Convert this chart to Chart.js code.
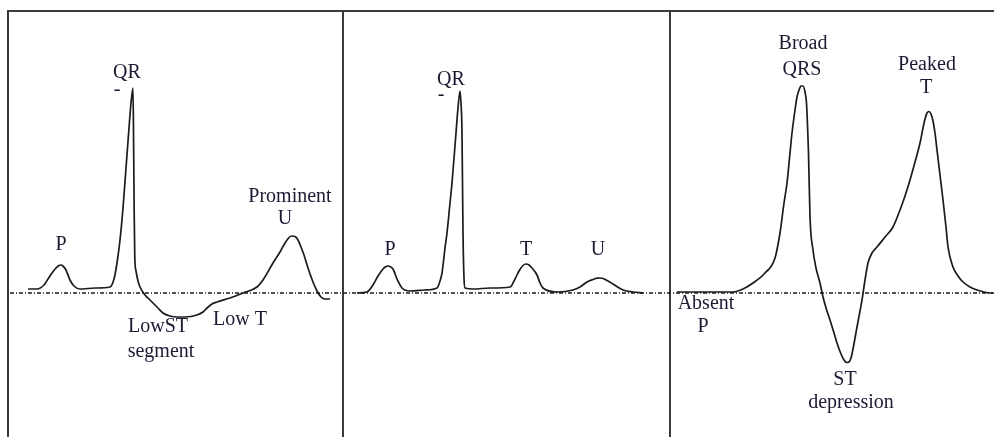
<!DOCTYPE html>
<html>
<head>
<meta charset="utf-8">
<script src="https://cdn.jsdelivr.net/npm/chart.js@4/dist/chart.umd.min.js"></script>
<style>
  html, body { margin: 0; padding: 0; background: #ffffff; }
  #wrap { width: 994px; height: 437px; position: relative; }
</style>
</head>
<body>
<div id="wrap"><canvas id="c"></canvas></div>
<script>
// ---- Data (x = horizontal position along the strip, y = amplitude above the isoelectric line) ----
// Panel 1: prominent U, low ST segment, low T
const panel1X = [28, 37, 44, 48, 52, 56, 59, 61, 63, 66, 70, 74, 80, 95, 110, 114, 117, 120, 123, 126, 129, 131, 133, 133.6, 134.2, 134.8, 136, 138, 140, 145, 150, 157, 163, 170, 177, 185, 197, 203, 207, 212, 217, 230, 243, 257, 263, 273, 280, 285, 289, 292, 295, 298, 301, 304, 308, 313, 317, 321, 325, 330];
const panel1Y = [4, 4, 8, 14, 20, 25, 27.5, 28, 27, 23, 13, 7, 4, 5, 6, 14, 30, 53, 85, 125, 165, 190, 205, 150, 80, 35, 22, 12, 6, -2, -7, -14, -20, -23, -24, -24, -22, -19, -15, -11, -9, -5, 0, 6, 13, 30, 41, 50, 55.5, 57, 56.5, 53, 46, 38, 25, 11, 2, -4, -6, -6];

// Panel 2: normal trace
const panel2X = [357, 367, 373, 378, 383, 386, 388, 390, 393, 397, 402, 410, 425, 437, 440, 442, 445, 447, 450, 452, 456, 458, 460, 461, 462, 463, 464, 465, 473, 490, 510, 515, 519, 523, 526, 529, 532, 537, 540, 543, 557, 573, 580, 587, 593, 597, 600, 603, 607, 613, 623, 633, 643];
const panel2Y = [0, 1, 8, 17, 24, 26.5, 27, 26.5, 24, 14, 5, 2, 3, 5, 12, 20, 45, 60, 90, 110, 160, 185, 202, 190, 160, 60, 15, 5, 4, 5, 6, 14, 22, 27.5, 29, 28, 25, 18, 10, 5, 1, 3, 6, 11, 13.5, 14.8, 15, 14.5, 12.5, 9, 3, 1, 0];

// Panel 3: absent P, broad QRS, ST depression, peaked T
const panel3X = [677, 700, 733, 743, 753, 765, 775, 780, 784, 787, 790, 792, 795, 797, 799, 801, 803, 805, 806.5, 807.5, 808.5, 810, 813, 816, 820, 823, 827, 830, 834, 837, 841, 844, 846.5, 849, 851, 853, 857, 860, 862, 865, 868, 872, 877, 885, 893, 900, 905, 910, 915, 920, 923, 925, 927, 929, 931, 933, 935, 937, 940, 943, 946, 948, 953, 958, 963, 970, 977, 984, 990, 993];
const panel3Y = [1, 1, 1, 4, 10, 20, 35, 60, 90, 110, 140, 160, 183, 196, 203, 207, 207, 201, 190, 168, 140, 76, 43, 25, 10, -4, -18, -27, -40, -50, -61, -67, -69.5, -69, -65, -56, -34, -18, -7, 13, 30, 40, 46, 56, 66, 83, 97, 113, 131, 150, 165, 174, 180, 181.5, 179, 172, 160, 143, 118, 93, 66, 46, 26, 17, 11, 6, 3, 1, 0, 0];

// Annotation labels
const labelText = ["QR", "-", "P", "Prominent", "U", "LowST", "segment", "Low T",
                   "QR", "-", "P", "T", "U",
                   "Broad", "QRS", "Peaked", "T", "Absent", "P", "ST", "depression"];
const labelX = [127, 117, 61, 290, 285, 158, 161, 240,
                451, 441, 390, 526, 598,
                803, 802, 927, 926, 706, 703, 845, 851];
const labelY = [220, 203, 48, 96, 74, -34, -59, -27,
                213, 198, 43, 43, 43,
                249, 223, 228, 205, -11, -34, -87, -110];

// Frame: panel dividers and isoelectric line extents
const dividerX = [8, 343, 670];
const frameTop = 282;
const frameBottom = -144;
const frameRight = 994;
const baselineStart = 10;

// ---- Build datasets ----
function pts(xs, ys) { return xs.map((x, i) => ({ x: x, y: ys[i] })); }

const traceStyle = {
  showLine: true, pointRadius: 0, borderColor: '#1b1b1b', borderWidth: 1.7,
  cubicInterpolationMode: 'monotone', fill: false
};
const frameStyle = {
  showLine: true, pointRadius: 0, borderColor: '#3a3a3a', borderWidth: 2,
  tension: 0, fill: false, borderCapStyle: 'square'
};

const datasets = [
  Object.assign({ label: 'Panel 1', data: pts(panel1X, panel1Y) }, traceStyle),
  Object.assign({ label: 'Panel 2', data: pts(panel2X, panel2Y) }, traceStyle),
  Object.assign({ label: 'Panel 3', data: pts(panel3X, panel3Y) }, traceStyle),
  {
    label: 'Baseline', data: [{ x: baselineStart, y: 0 }, { x: frameRight, y: 0 }],
    showLine: true, pointRadius: 0, borderColor: '#1b1b1b', borderWidth: 1.3,
    borderDash: [4, 2, 1, 2], tension: 0
  },
  Object.assign({ label: 'Top', data: [{ x: dividerX[0], y: frameTop }, { x: frameRight, y: frameTop }] }, frameStyle)
];
dividerX.forEach((dx, i) => {
  datasets.push(Object.assign({ label: 'Divider ' + i, data: [{ x: dx, y: frameTop }, { x: dx, y: frameBottom }] }, frameStyle));
});

const labelPlugin = {
  id: 'ecgLabels',
  afterDatasetsDraw(chart) {
    const ctx = chart.ctx;
    const xs = chart.scales.x, ys = chart.scales.y;
    ctx.save();
    ctx.fillStyle = '#1a1a33';
    ctx.font = '20px "Liberation Serif", "Times New Roman", serif';
    ctx.textAlign = 'center';
    ctx.textBaseline = 'middle';
    labelText.forEach((t, i) => {
      ctx.fillText(t, xs.getPixelForValue(labelX[i]), ys.getPixelForValue(labelY[i]));
    });
    ctx.restore();
  }
};

new Chart(document.getElementById('c'), {
  type: 'scatter',
  data: { datasets: datasets },
  options: {
    responsive: true,
    maintainAspectRatio: false,
    animation: false,
    layout: { padding: 0 },
    scales: {
      x: { type: 'linear', min: 0, max: 994, display: false },
      y: { type: 'linear', min: -144, max: 293, display: false }
    },
    plugins: { legend: { display: false }, tooltip: { enabled: false } },
    elements: { line: { borderJoinStyle: 'round' } }
  },
  plugins: [labelPlugin]
});
</script>
</body>
</html>
